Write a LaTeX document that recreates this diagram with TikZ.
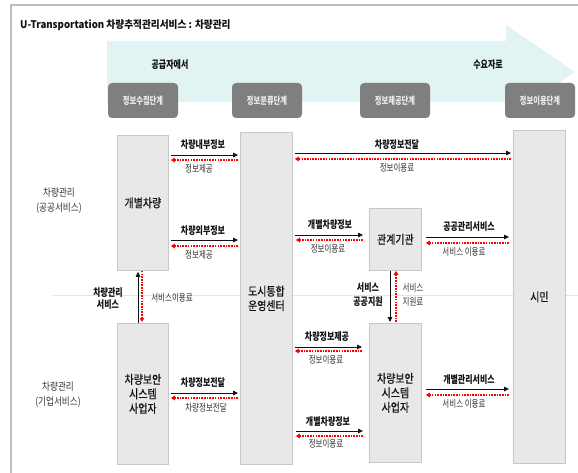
\documentclass[tikz,border=0pt]{standalone}
\usepackage{fontspec}
\setmainfont{Noto Sans CJK KR}
\newfontfamily\ksub[FakeStretch=0.75]{Noto Sans CJK KR}
\newfontfamily\klbl[FakeStretch=0.76]{Noto Sans CJK KR}
\newfontfamily\kstage[FakeStretch=0.73]{Noto Sans CJK KR}
\newfontfamily\kside[FakeStretch=0.82]{Noto Sans CJK KR}
\newfontfamily\klane[FakeStretch=0.83,FakeBold=0.5]{Noto Sans CJK KR}
\newfontfamily\ktitle[FakeStretch=0.92]{Noto Sans CJK KR}
\usetikzlibrary{arrows.meta}
\definecolor{arrowcyan}{HTML}{E2F3F3}
\definecolor{lanefill}{HTML}{E8E8E8}
\definecolor{laneline}{HTML}{C8C8C8}
\definecolor{stagefill}{HTML}{7F7F7F}
\definecolor{stagetext}{HTML}{EDEDED}
\definecolor{framecol}{HTML}{BDBDBD}
\definecolor{sepcol}{HTML}{E4E4E4}
\definecolor{dotred}{HTML}{FF0000}
\definecolor{inkblack}{HTML}{111111}
\definecolor{labgray}{HTML}{333333}
\begin{document}
\begin{tikzpicture}[x=1pt,y=-1pt,
  lane/.style={draw=laneline, fill=lanefill, line width=0.8pt, inner sep=0pt, anchor=north west, align=center, font=\klane\fontsize{12}{14.5}\selectfont, text=inkblack},
  stagebox/.style={fill=stagefill, rounded corners=4pt, minimum width=70pt, minimum height=35pt, inner sep=0pt, text=stagetext, font=\kstage\fontsize{10}{10}\selectfont\bfseries},
  blk/.style={draw=inkblack, line width=0.8pt, -{Triangle[length=5pt,width=4.5pt]}, shorten >=2pt, shorten <=2pt},
  rdot/.style={draw=dotred, line width=1.6pt, dash pattern=on 1.6pt off 1.1pt, -{Triangle[length=4pt,width=4.5pt]}, shorten >=2pt, shorten <=2pt},
  lbl/.style={inner sep=0pt, font=\klbl\fontsize{10.5}{10}\selectfont\bfseries, text=inkblack, align=center},
  sub/.style={inner sep=0pt, font=\ksub\fontsize{10}{9}\selectfont, text=labgray, align=center},
  side/.style={inner sep=0pt, font=\kside\fontsize{10.5}{15}\selectfont, text=labgray, align=center}
]
\useasboundingbox (0,0) rectangle (578,473);
\fill[white] (0,0) rectangle (578,473);
% frame
\draw[framecol, line width=1.6pt] (11,473) -- (11,5) -- (578,5);
% title
\node[anchor=west, inner sep=0pt, font=\ktitle\fontsize{10.5}{11}\selectfont\bfseries, text=inkblack] (title) at (20,25) {U-Transportation 차량추적관리서비스 : 차량관리};
% big arrow
\fill[arrowcyan] (107,41) -- (506,41) -- (506,25) -- (575,72) -- (506,119) -- (506,102) -- (107,102) -- cycle;
\node[lbl] (supply) at (170,65) {공급자에서};
\node[lbl] (demand) at (488,65) {수요자로};
% stage boxes
\node[stagebox] (s1) at (143,100.5) {정보수집단계};
\node[stagebox] (s2) at (267,100.5) {정보분류단계};
\node[stagebox] (s3) at (395,100.5) {정보제공단계};
\node[stagebox] (s4) at (540,100.5) {정보이용단계};
% separator
\draw[sepcol, line width=0.8pt] (53,295) -- (578,295);
% lane boxes
\node[lane, minimum width=51pt, minimum height=135pt] (car) at (117,135) {개별차량};
\node[lane, minimum width=52pt, minimum height=332pt] (ctr) at (240,132) {도시통합\\운영센터};
\node[lane, minimum width=52pt, minimum height=62pt] (gov) at (369,208) {관계기관};
\node[lane, minimum width=52pt, minimum height=333pt] (cit) at (513,130) {시민};
\node[lane, minimum width=51pt, minimum height=141pt] (secL) at (117,323) {차량보안\\시스템\\사업자};
\node[lane, minimum width=52pt, minimum height=139pt] (secR) at (369,323) {차량보안\\시스템\\사업자};
% side labels
\node[side] (pub) at (59,200.5) {차량관리\\(공공서비스)};
\node[side] (biz) at (58,395) {차량관리\\(기업서비스)};
% car <-> ctr row 1
\draw[blk] (car.east |- 0,155) -- (ctr.west |- 0,155);
\draw[rdot] (ctr.west |- 0,160) -- (car.east |- 0,160);
\node[lbl] (a1) at (203,145) {차량내부정보};
\node[sub] (b1) at (199,169) {정보제공};
% car <-> ctr row 2
\draw[blk] (car.east |- 0,240) -- (ctr.west |- 0,240);
\draw[rdot] (ctr.west |- 0,246) -- (car.east |- 0,246);
\node[lbl] (a2) at (203,231) {차량외부정보};
\node[sub] (b2) at (199,255) {정보제공};
% ctr <-> cit
\draw[blk] (ctr.east |- 0,153) -- (cit.west |- 0,153);
\draw[rdot] (cit.west |- 0,159) -- (ctr.east |- 0,159);
\node[lbl] (a3) at (397,145) {차량정보전달};
\node[sub] (b3) at (397,168) {정보이용료};
% ctr <-> gov
\draw[blk, shorten >=6pt] (ctr.east |- 0,235) -- (gov.west |- 0,235);
\draw[rdot, shorten <=6pt, shorten >=3pt] (gov.west |- 0,240) -- (ctr.east |- 0,240);
\node[lbl] (a4) at (330,225) {개별차량정보};
\node[sub] (b4) at (328,249) {정보이용료};
% gov <-> cit
\draw[blk, shorten <=4pt, shorten >=4pt] (gov.east |- 0,237) -- (cit.west |- 0,237);
\draw[rdot, shorten <=4pt, shorten >=4pt] (cit.west |- 0,243) -- (gov.east |- 0,243);
\node[lbl] (a5) at (469,227) {공공관리서비스};
\node[sub] (b5) at (464,252) {서비스 이용료};
% gov <-> secR vertical
\draw[blk, shorten <=0pt, shorten >=1pt] (gov.south -| 390,0) -- (secR.north -| 390,0);
\draw[rdot, shorten <=1pt, shorten >=0pt] (secR.north -| 396,0) -- (gov.south -| 396,0);
\node[lbl, font=\klbl\fontsize{10.5}{14}\selectfont\bfseries] (a6) at (368,295) {서비스\\공공지원};
\node[sub, font=\ksub\fontsize{10}{14}\selectfont] (b6) at (413,295) {서비스\\지원료};
% secL <-> car vertical
\draw[blk, shorten <=0pt, shorten >=1pt] (secL.north -| 138,0) -- (car.south -| 138,0);
\draw[rdot, shorten <=0pt, shorten >=1pt] (car.south -| 142,0) -- (secL.north -| 142,0);
\node[lbl, font=\klbl\fontsize{10.5}{12}\selectfont\bfseries] (a7) at (108,299) {차량관리\\서비스};
\node[sub] (b7) at (172,298) {서비스이용료};
% ctr -> secR rows
\draw[blk, shorten >=7pt] (ctr.east |- 0,347) -- (secR.west |- 0,347);
\draw[rdot, shorten <=7pt] (secR.west |- 0,351) -- (ctr.east |- 0,351);
\node[lbl] (a8) at (327,337) {차량정보제공};
\node[sub] (b8) at (326,360) {정보이용료};
\draw[blk, shorten >=6pt, shorten <=3pt] (ctr.east |- 0,431) -- (secR.west |- 0,431);
\draw[rdot, shorten <=6pt, shorten >=3pt] (secR.west |- 0,436) -- (ctr.east |- 0,436);
\node[lbl] (a9) at (328,422) {개별차량정보};
\node[sub] (b9) at (326,444) {정보이용료};
% secR <-> cit
\draw[blk, shorten <=4pt, shorten >=4pt] (secR.east |- 0,389) -- (cit.west |- 0,389);
\draw[rdot, shorten <=4pt, shorten >=4pt] (cit.west |- 0,395) -- (secR.east |- 0,395);
\node[lbl] (a10) at (469,380) {개별관리서비스};
\node[sub] (b10) at (464,404) {서비스 이용료};
% secL <-> ctr
\draw[blk] (secL.east |- 0,393) -- (ctr.west |- 0,393);
\draw[rdot] (ctr.west |- 0,398) -- (secL.east |- 0,398);
\node[lbl] (a11) at (203,383) {차량정보전달};
\node[sub] (b11) at (206,408) {차량정보전달};
\end{tikzpicture}
\end{document}
